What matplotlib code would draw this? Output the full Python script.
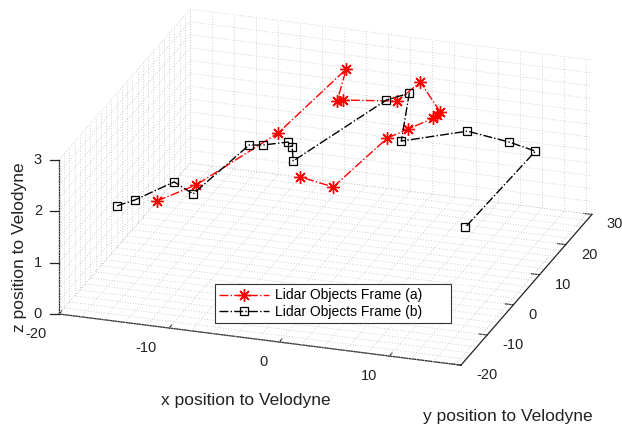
import numpy as np
import matplotlib
matplotlib.use("Agg")
import matplotlib.pyplot as plt
from matplotlib.patches import Rectangle
from matplotlib.lines import Line2D
from mpl_toolkits.mplot3d import proj3d

plt.rcParams['font.family'] = ['Liberation Sans', 'DejaVu Sans']
plt.rcParams['axes.unicode_minus'] = False

# Lidar Objects Frame (a)
xa = [-12.71, -10.29, -6.54, -3.70, -3.26, -2.84, 1.66, 2.92, 5.96, 5.93, 5.81, 4.18, 2.74, 0.70, -2.34]
ya = [-13.19, -8.47, 7.09, 21.10, 15.81, 16.33, 18.08, 21.56, 16.43, 15.42, 14.37, 11.68, 9.73, -2.34, -2.14]
za = [2.0, 2.1, 2.3, 2.8, 2.5, 2.5, 2.5, 2.7, 2.5, 2.5, 2.5, 2.4, 2.3, 2.0, 2.1]

# Lidar Objects Frame (b)
xb = [-16.0, -14.95, -12.67, -10.63, -8.79, -7.65, -5.81, -5.13, -4.42, -0.04, 1.71, 3.73, 8.43, 12.28, 14.69, 12.90]
yb = [-14.66, -12.19, -6.87, -8.2, 5.47, 6.0, 7.84, 6.5, 3.9, 21.02, 22.45, 10.89, 16.37, 16.22, 16.05, -3.15]
zb = [1.9, 1.9, 2.0, 1.9, 2.1, 2.1, 2.1, 2.1, 2.0, 2.3, 2.4, 2.2, 2.2, 2.1, 2.0, 1.6]

xlim = (-20, 16.5)
ylim = (-20, 30)
zlim = (0, 3)
xticks = [-20, -10, 0, 10]
yticks = [-20, -10, 0, 10, 20, 30]
zticks = [0, 1, 2, 3]
# minor grid like matlab "grid minor"
xgrid = np.arange(-20, 16.6, 2)
ygrid = np.arange(-20, 30.1, 2)
zgrid = np.arange(0, 3.01, 0.25)

W, H = 622, 426
fig = plt.figure(figsize=(W / 100, H / 100), dpi=100)
ax = fig.add_axes([0, 0, 1, 1], projection='3d', computed_zorder=False)
ax.set_proj_type('ortho')
ax.view_init(elev=22.5, azim=-71.6)
ax.set_box_aspect((1, 0.98, 0.394))
ax.set_xlim(*xlim)
ax.set_ylim(*ylim)
ax.set_zlim(*zlim)
ax.set_xticks(xticks, [''] * len(xticks))
ax.set_yticks(yticks, [''] * len(yticks))
ax.set_zticks(zticks, [''] * len(zticks))
ax.grid(False)
ax.zaxis.set_ticks_position('lower')

for axis in (ax.xaxis, ax.yaxis, ax.zaxis):
    axis.set_pane_color((1, 1, 1, 0))
    axis.pane.set_edgecolor((1, 1, 1, 0))
    axis.line.set_color('#222222')
    axis.line.set_linewidth(0.9)
    axis._axinfo['tick']['inward_factor'] = 0.0
    axis._axinfo['tick']['outward_factor'] = 0.25
# z ticks are drawn flat (to the left) further down
ax.zaxis._axinfo['tick']['outward_factor'] = 0.0
ax.tick_params(colors='#222222')

# dotted grid on floor and back walls
gkw = dict(color='#c4c4c4', lw=0.6, ls=(0, (1, 2.2)), zorder=0)
for x in xgrid:
    ax.plot([x, x], [ylim[0], ylim[1]], [0, 0], **gkw)
    ax.plot([x, x], [ylim[1], ylim[1]], [zlim[0], zlim[1]], **gkw)
for y in ygrid:
    ax.plot([xlim[0], xlim[1]], [y, y], [0, 0], **gkw)
    ax.plot([xlim[0], xlim[0]], [y, y], [zlim[0], zlim[1]], **gkw)
for z in zgrid:
    ax.plot([xlim[0], xlim[1]], [ylim[1], ylim[1]], [z, z], **gkw)
    ax.plot([xlim[0], xlim[0]], [ylim[0], ylim[1]], [z, z], **gkw)

la, = ax.plot(xa, ya, za, color='red', ls='-.', lw=1.0, marker=(8, 2, 0), ms=9,
              mew=1.0, zorder=3, label='Lidar Objects Frame (a)')
lb, = ax.plot(xb, yb, zb, color='black', ls='-.', lw=1.0, marker='s', ms=6,
              mfc='none', mew=0.9, zorder=4, label='Lidar Objects Frame (b)')

# fit the projected box onto the reference position
fig.canvas.draw()

def to_px(p):
    xs, ys, _ = proj3d.proj_transform(p[0], p[1], p[2], ax.M)
    return np.array(ax.transData.transform((xs, ys)))

t1 = np.array([59.0, H - 314.0])
t2 = np.array([591.5, H - 212.0])
p1 = to_px((xlim[0], ylim[0], zlim[0]))
p2 = to_px((xlim[1], ylim[1], zlim[0]))
bb = ax.get_position()
L = np.array([bb.x0 * W, bb.y0 * H])
side = bb.width * W
k = np.linalg.norm(t2 - t1) / np.linalg.norm(p2 - p1)
u1 = (p1 - L) / side
side2 = side * k
L2 = t1 - side2 * u1
ax.set_position([L2[0] / W, L2[1] / H, side2 / W, side2 / H])
fig.canvas.draw()

# tick labels placed matlab-like next to the projected tick points
tkw = dict(fontsize=10.5, color='#222222', va='center')
for v in xticks:
    px, py = to_px((v, ylim[0], zlim[0]))
    fig.text((px - 12) / W, (py - 20) / H, str(v), ha='right', **tkw)
for v in yticks:
    px, py = to_px((xlim[1], v, zlim[0]))
    fig.text((px + 15) / W, (py - 10) / H, str(v), ha='left', **tkw)
for v in zticks:
    px, py = to_px((xlim[0], ylim[0], v))
    fig.text((px - 17) / W, py / H, str(v), ha='right', **tkw)
    fig.add_artist(Line2D([(px - 9) / W, px / W], [py / H, py / H],
                          color='#222222', lw=0.9))

# legend box (matlab style, wider than its text)
fig.patches.append(Rectangle((215 / W, 1 - 323 / H), 236 / W, 39 / H,
                             transform=fig.transFigure, facecolor='white',
                             edgecolor='#333333', lw=0.8, zorder=4))
leg = fig.legend(handles=[la, lb], loc='upper left',
                 bbox_to_anchor=(216 / W, 1 - 285 / H), fontsize=10,
                 frameon=False, borderaxespad=0, handlelength=3.6,
                 handletextpad=0.4, borderpad=0.25, labelspacing=0.15)
leg.set_zorder(5)

fig.text(246 / W, 1 - 400 / H, 'x position to Velodyne', fontsize=12.5,
         ha='center', va='center', color='#222222')
fig.text(508 / W, 1 - 417 / H, 'y position to Velodyne', fontsize=12.5,
         ha='center', va='center', color='#222222')
fig.text(20 / W, 1 - 247 / H, 'z position to Velodyne', fontsize=12.5,
         ha='center', va='center', rotation=90, color='#222222')

fig.savefig('out.png', dpi=100)
